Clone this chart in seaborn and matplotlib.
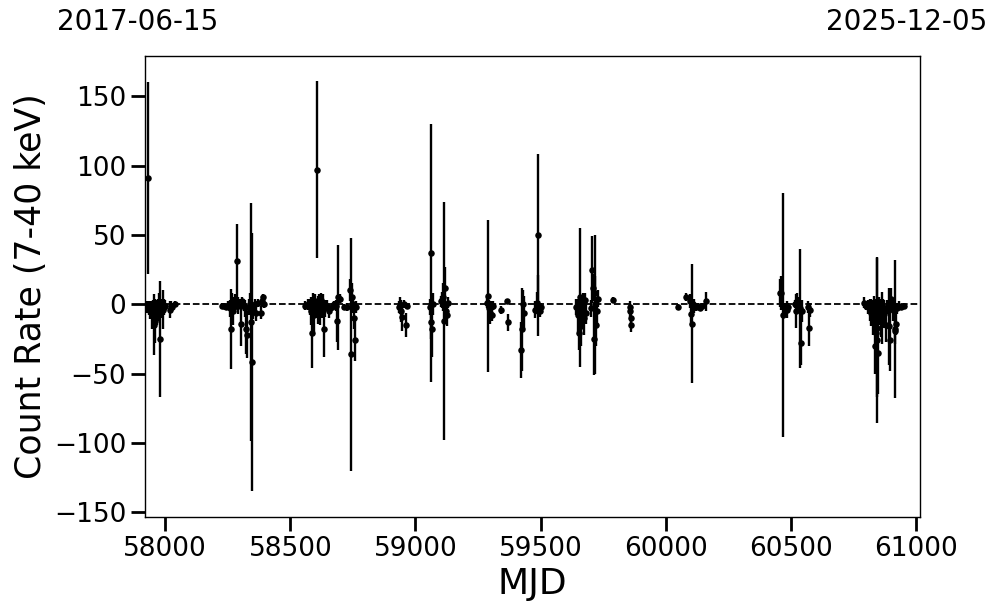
import numpy as np
import pandas as pd
import seaborn as sns
import matplotlib
matplotlib.use("Agg")
import matplotlib.pyplot as plt

# Light curve values (MJD, count rate, 1-sigma error)
mjd = [
    # 2017
    57925, 57928, 57932, 57936, 57940, 57944, 57948, 57952, 57956, 57960, 57964, 57968,
    57972, 57976, 57980, 57984, 57988, 57992, 57996, 58000, 58020, 58024, 58028, 58040,
    # 2018
    58228, 58236, 58244, 58252, 58260, 58264, 58268, 58272, 58276, 58280, 58288, 58292,
    58300, 58304, 58308, 58316, 58320, 58324, 58328, 58336, 58340, 58344, 58348, 58352,
    58360, 58364, 58372, 58384, 58388, 58392, 58396,
    # 2019
    58560, 58572, 58580, 58584, 58588, 58592, 58596, 58600, 58604, 58608, 58612, 58616,
    58620, 58624, 58628, 58632, 58636, 58640, 58648, 58656, 58668, 58676, 58684, 58688,
    58692, 58700, 58716, 58728, 58740, 58744, 58748, 58752, 58756, 58760, 58764,
    # 2020
    58936, 58940, 58944, 58948, 58956, 58964, 58968, 59056, 59060, 59062, 59064, 59068,
    59100, 59104, 59108, 59112, 59116, 59120, 59124, 59128,
    # 2021
    59284, 59288, 59292, 59296, 59300, 59304, 59308, 59340, 59364, 59368, 59420, 59424,
    59428, 59432, 59476, 59484, 59488, 59490, 59494, 59498, 59502,
    # 2022
    59640, 59648, 59652, 59656, 59658, 59660, 59664, 59668, 59672, 59676, 59680, 59700,
    59704, 59708, 59712, 59716, 59718, 59720, 59724, 59728, 59788, 59856, 59858, 59860,
    59862,
    # 2023
    60048, 60080, 60096, 60100, 60104, 60108, 60112, 60120, 60128, 60136, 60144, 60160,
    # 2024
    60456, 60460, 60468, 60476, 60484, 60488, 60516, 60520, 60524, 60528, 60532, 60536,
    60540, 60544, 60568, 60572, 60576,
    # 2025
    60792, 60800, 60808, 60816, 60820, 60824, 60828, 60832, 60836, 60840, 60844, 60846,
    60848, 60852, 60856, 60860, 60864, 60868, 60872, 60880, 60884, 60892, 60896, 60900,
    60908, 60914, 60916, 60918, 60924, 60932, 60940, 60950,
]
rate = [
    -1, -2, 91, -3, -5, -2, -8, -4, -15, -12, -3, -6,
    -1, -2, -25, -3, -1, -4, -2, -1, -4, -1, -2, 0,
    -1, -1, -2, -1, -3, -18, 0, -5, -2, 2, 31, -1,
    1, -14, 2, -1, -3, -18, -22, -2, 0, -13, -42, -5,
    0, -6, 1, -6, 2, 5, 0,
    -1, 0, -2, -5, -21, 0, -8, 2, -3, 97, -4, 1,
    -6, 3, -2, 0, -18, -3, -1, -5, -2, 0, -1, -12,
    5, 4, -2, -2, 10, -36, 5, 0, -10, -26, -2,
    -2, -1, -5, -9, 0, -15, -1, -2, 37, -13, -18, 0,
    2, 3, 5, -12, 12, -5, -8, 1,
    1, 6, -3, -6, -2, -8, -1, -4, 2, -13, -33, -18,
    0, -6, -4, 1, 50, -1, -3, -5, -2,
    -2, -8, -21, 5, -12, -16, -5, 0, -10, 3, -6, -3,
    25, 12, -25, 0, 8, -15, -5, 4, 3, -2, -5, -10,
    -15,
    -2, 5, 2, -7, -14, 0, -1, -2, -1, -3, -1, 2,
    8, 8, -8, -3, -4, -2, 0, -5, 2, -1, 0, -3,
    -28, -5, -2, -17, -4,
    1, -1, -2, -4, -6, -3, -10, -8, -30, -21, -26, -17,
    -35, -5, -2, -12, -10, -4, -7, -15, -2, -16, -26, 4,
    -4, -19, -18, -14, -3, -1, -2, -1,
]
rate_err = [
    3, 4, 69, 5, 6, 4, 10, 7, 22, 16, 6, 9,
    5, 10, 42, 7, 5, 14, 6, 4, 6, 3, 3, 2,
    1.5, 2, 2, 3, 6, 29, 8, 10, 4, 5, 27, 6,
    3, 16, 3, 4, 6, 18, 17, 6, 8, 86, 93, 6,
    4, 6, 3, 5, 4, 2, 3,
    3, 4, 6, 10, 25, 8, 12, 5, 7, 64, 10, 6,
    9, 5, 8, 7, 20, 6, 4, 5, 3, 2, 4, 15,
    38, 3, 2, 3, 8, 84, 10, 6, 8, 15, 4,
    4, 6, 8, 10, 3, 9, 2, 6, 93, 12, 20, 8,
    4, 6, 10, 86, 15, 6, 8, 4,
    4, 55, 6, 8, 4, 4, 3, 3, 2, 6, 20, 30,
    10, 12, 6, 8, 58, 22, 5, 4, 3,
    6, 12, 12, 50, 15, 14, 10, 8, 12, 5, 8, 6,
    24, 10, 26, 50, 12, 15, 10, 6, 2, 4, 4, 6,
    5,
    2, 3, 5, 8, 43, 4, 5, 3, 2, 2, 2, 7,
    10, 12, 88, 4, 6, 3, 3, 12, 6, 4, 5, 43,
    16, 8, 4, 13, 5,
    4, 3, 5, 8, 10, 6, 12, 14, 20, 25, 60, 50,
    30, 10, 6, 12, 19, 8, 10, 12, 5, 28, 22, 8,
    8, 10, 50, 8, 4, 3, 2, 2,
]
date_start = "2017-06-15"
date_end = "2025-12-05"

df = pd.DataFrame({"MJD": mjd, "rate": rate, "err": rate_err})

sns.set_style("ticks")
plt.rcParams["font.family"] = ["DejaVu Sans"]
plt.rcParams.update({"text.color": "black", "axes.labelcolor": "black",
                     "xtick.color": "black", "ytick.color": "black",
                     "axes.edgecolor": "black"})

fig, ax = plt.subplots(figsize=(9.97, 6.13), dpi=100)
fig.subplots_adjust(left=0.1454, right=0.9228, top=0.9086, bottom=0.1566)

ax.errorbar(df["MJD"], df["rate"], yerr=df["err"], fmt="none",
            ecolor="black", elinewidth=1.7, capsize=0, zorder=2)
sns.scatterplot(data=df, x="MJD", y="rate", ax=ax, color="black",
                s=22, linewidth=0, zorder=3)
ax.axhline(0, color="black", linestyle="--", linewidth=1.3, zorder=1)

ax.set_xlim(57919, 61016)
ax.set_ylim(-153.5, 179)
ax.set_xlabel("MJD", fontsize=26)
ax.set_ylabel("Count Rate (7-40 keV)", fontsize=25)
ax.tick_params(axis="both", which="major", labelsize=19, length=10, width=2,
               direction="out")
for s in ax.spines.values():
    s.set_linewidth(1.0)

fig.text(57 / 997, 1 - 22 / 613, date_start, fontsize=20, ha="left", va="center")
fig.text(987 / 997, 1 - 22 / 613, date_end, fontsize=20, ha="right", va="center")

fig.savefig("out.png", dpi=100)
